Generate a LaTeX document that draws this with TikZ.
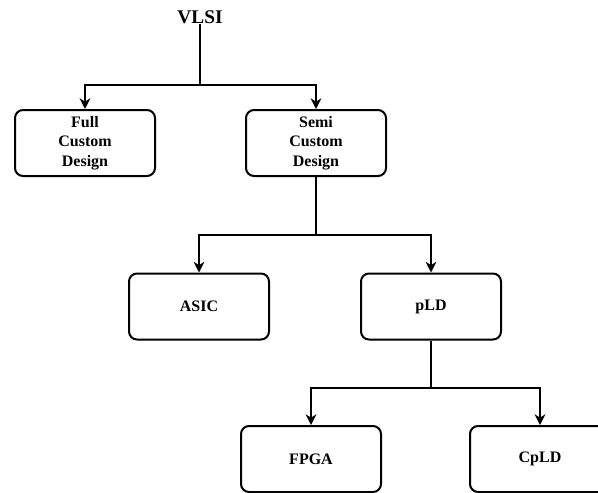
\documentclass[tikz,border=0pt]{standalone}
\usepackage{fontspec}
\setmainfont{Liberation Serif}
\usetikzlibrary{arrows.meta}
\tikzset{
  blocco/.style = {rectangle, rounded corners=6pt, draw, line width=1.5pt, fill=white, minimum width=105pt, minimum height=49.5pt, align=center, font=\bfseries\fontsize{12}{14.6}\selectfont},
  radice/.style = {font=\bfseries\fontsize{14.5}{17}\selectfont, inner sep=0pt},
  link/.style   = {line width=1.5pt},
  freccia/.style = {link, -{Stealth[length=8pt, width=8pt, inset=2.5pt]}}
}
\begin{document}
\begin{tikzpicture}[x=0.75pt, y=-0.75pt]
  \useasboundingbox (0,0) rectangle (598,492);
  \clip (0,0) rectangle (598,492);
  % radice
  \node[radice] (vlsi) at (200,17.5) {VLSI};
  % primo livello
  \node[blocco] (full) at (85,143) {Full\\Custom\\Design};
  \node[blocco] (semi) at (316,143) {Semi\\Custom\\Design};
  % secondo livello
  \node[blocco] (asic) at (199,306.5) {ASIC};
  \node[blocco] (pld)  at (431,306.5) {pLD};
  % terzo livello
  \node[blocco] (fpga) at (311,459) {FPGA};
  \node[blocco] (cpld) at (540,459) {CpLD};
  % giunzioni
  \coordinate (j1) at (200,85);
  \coordinate (j2) at (316,235);
  \coordinate (j3) at (431,388);
  \draw[link] (vlsi) -- (j1); \draw[freccia] (j1) -| (full); \draw[freccia] (j1) -| (semi);
  \draw[link] (semi) -- (j2); \draw[freccia] (j2) -| (asic); \draw[freccia] (j2) -| (pld);
  \draw[link] (pld)  -- (j3); \draw[freccia] (j3) -| (fpga); \draw[freccia] (j3) -| (cpld);
\end{tikzpicture}
\end{document}
